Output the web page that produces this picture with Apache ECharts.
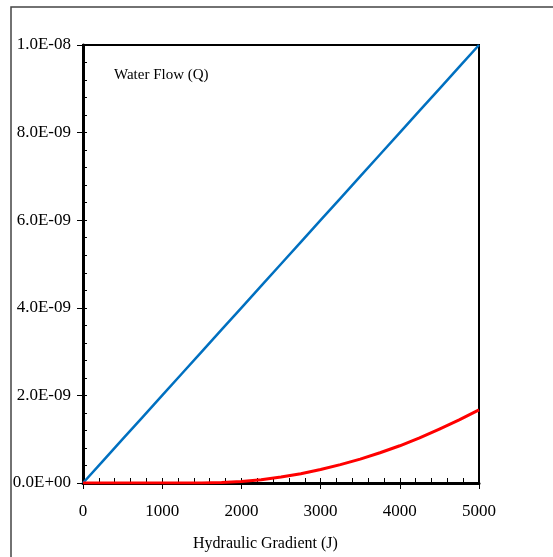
<!DOCTYPE html>
<html>
<head>
<meta charset="utf-8">
<script src="https://cdn.jsdelivr.net/npm/echarts@6/dist/echarts.min.js"></script>
<style>
html,body{margin:0;padding:0;background:#fff;}
#chart{width:553px;height:557px;}
</style>
</head>
<body>
<div id="chart"></div>
<script>
// Data
var gradientJ = [0, 250, 500, 750, 1000, 1250, 1500, 1750, 2000, 2250, 2500, 2750, 3000, 3250, 3500, 3750, 4000, 4250, 4500, 4750, 5000];
var blueFlow = [0, 0.5e-9, 1.0e-9, 1.5e-9, 2.0e-9, 2.5e-9, 3.0e-9, 3.5e-9, 4.0e-9, 4.5e-9, 5.0e-9, 5.5e-9, 6.0e-9, 6.5e-9, 7.0e-9, 7.5e-9, 8.0e-9, 8.5e-9, 9.0e-9, 9.5e-9, 1.0e-8];
var redFlow = [0, 0, 0, 0, 0, 0, 0, 0.009e-9, 0.034e-9, 0.076e-9, 0.136e-9, 0.213e-9, 0.307e-9, 0.42e-9, 0.545e-9, 0.69e-9, 0.85e-9, 1.03e-9, 1.23e-9, 1.44e-9, 1.67e-9];
var yTickLabels = ['0.0E+00', '2.0E-09', '4.0E-09', '6.0E-09', '8.0E-09', '1.0E-08'];
var xTickLabels = ['0', '1000', '2000', '3000', '4000', '5000'];
var seriesLabel = 'Water Flow (Q)';
var xAxisTitle = 'Hydraulic Gradient (J)';

function pairs(xs, ys) { return xs.map(function (x, i) { return [x, ys[i]]; }); }

var FONT = '"Liberation Serif", "Times New Roman", serif';
var chart = echarts.init(document.getElementById('chart'), null, { renderer: 'canvas' });
var grid = { left: 83, top: 45, right: 74, bottom: 74, show: true, borderColor: '#000', borderWidth: 2, backgroundColor: 'transparent' };

chart.setOption({
  animation: false,
  backgroundColor: '#fff',
  grid: grid,
  title: {
    text: seriesLabel, left: 109, top: 63,
    textStyle: { fontFamily: FONT, fontSize: 15, fontWeight: 'normal', color: '#000' }
  },
  graphic: [
    { type: 'rect', shape: { x: 11, y: 7, width: 700, height: 700 }, style: { fill: 'none', stroke: '#444', lineWidth: 1.5 }, silent: true, z: -1 },
    { type: 'text', left: 193, top: 536, style: { text: xAxisTitle, font: '16px ' + FONT, fill: '#000' } }
  ],
  xAxis: [
    {
      type: 'value', min: 0, max: 5000, interval: 1000, position: 'bottom',
      axisLine: { show: true, onZero: false, lineStyle: { color: '#000', width: 3 } },
      axisTick: { show: true, inside: false, length: 6, lineStyle: { color: '#000', width: 1 } },
      axisLabel: { margin: 20, fontFamily: FONT, fontSize: 17, color: '#000',
        formatter: function (v) { return xTickLabels[Math.round(v / 1000)]; } },
      splitLine: { show: false }
    },
    {
      type: 'value', min: 0, max: 5000, interval: 200, position: 'bottom',
      axisLine: { show: false },
      axisTick: { show: true, inside: true, length: 5, lineStyle: { color: '#000', width: 1 } },
      axisLabel: { show: false }, splitLine: { show: false }
    }
  ],
  yAxis: [
    {
      type: 'value', min: 0, max: 1e-8, interval: 2e-9, position: 'left',
      axisLine: { show: true, onZero: false, lineStyle: { color: '#000', width: 3 } },
      axisTick: { show: true, inside: false, length: 6, lineStyle: { color: '#000', width: 1 } },
      axisLabel: { margin: 12, fontFamily: FONT, fontSize: 17, color: '#000',
        formatter: function (v) { return yTickLabels[Math.round(v / 2e-9)]; } },
      splitLine: { show: false }
    },
    {
      type: 'value', min: 0, max: 1e-8, interval: 0.4e-9, position: 'left',
      axisLine: { show: false },
      axisTick: { show: true, inside: true, length: 4, lineStyle: { color: '#000', width: 1 } },
      axisLabel: { show: false }, splitLine: { show: false }
    }
  ],
  series: [
    {
      name: 'Blue', type: 'line', xAxisIndex: 0, yAxisIndex: 0,
      data: pairs(gradientJ, blueFlow), showSymbol: false, symbol: 'none',
      lineStyle: { color: '#0070C0', width: 2.5 }, z: 3
    },
    {
      name: 'Red', type: 'line', xAxisIndex: 0, yAxisIndex: 0,
      data: pairs(gradientJ, redFlow), showSymbol: false, symbol: 'none',
      smooth: false,
      lineStyle: { color: '#FF0000', width: 3, join: 'round' }, z: 4
    }
  ]
});
</script>
</body>
</html>
